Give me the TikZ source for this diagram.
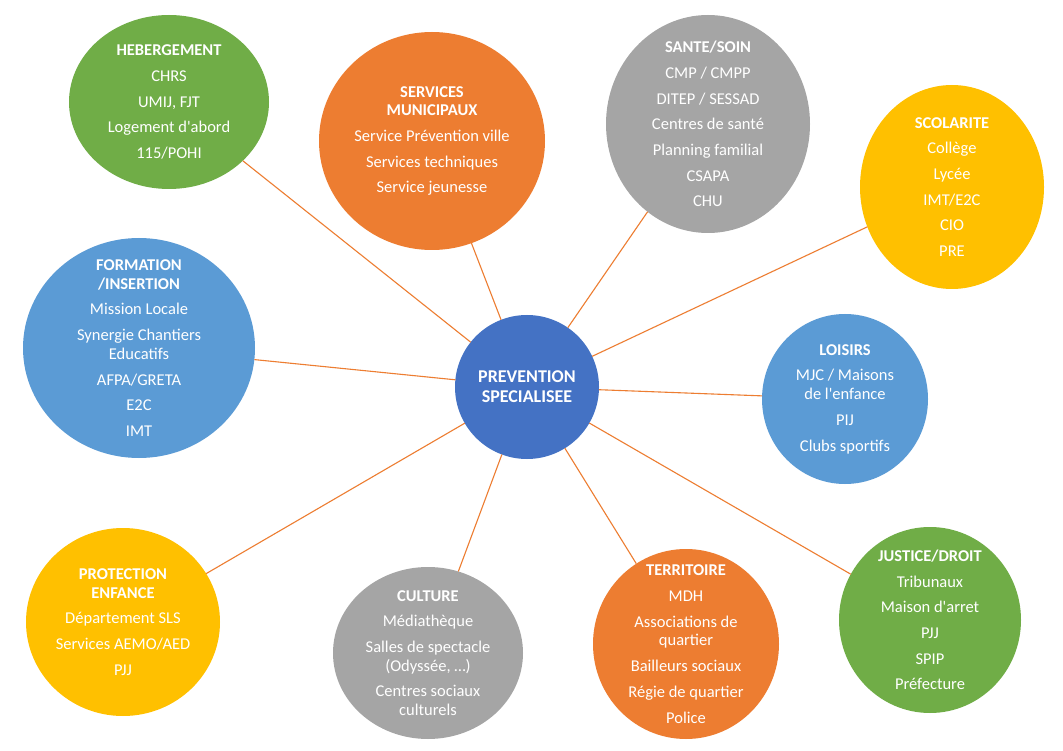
\documentclass[tikz,border=0pt]{standalone}
\usepackage{fontspec}
\setmainfont{Carlito}
\usetikzlibrary{shapes.geometric}
\definecolor{cBlue}{HTML}{4472C4}
\definecolor{cLight}{HTML}{5B9BD5}
\definecolor{cOrange}{HTML}{ED7D31}
\definecolor{cGray}{HTML}{A5A5A5}
\definecolor{cYellow}{HTML}{FFC000}
\definecolor{cGreen}{HTML}{70AD47}
\newcommand\pgap{\\[6.9pt]}
\begin{document}
\begin{tikzpicture}[x=1pt,y=-1pt,
  bub/.style={ellipse, draw=none, inner sep=0pt, outer sep=0pt},
  lbl/.style={text=white, align=center, font=\fontsize{16.5}{18.8}\selectfont, inner sep=0pt},
  link/.style={draw=cOrange, line width=1.1pt}]
\fill[white] (0,0) rectangle (1063,751);
\useasboundingbox (0,0) rectangle (1063,751);

% bubbles
\node[bub, fill=cBlue,   minimum width=144pt, minimum height=144pt] (cen) at (527,387) {};
\node[bub, fill=cGreen,  minimum width=200pt, minimum height=174pt] (heb) at (169,102) {};
\node[bub, fill=cOrange, minimum width=226pt, minimum height=218pt] (ser) at (432,141) {};
\node[bub, fill=cGray,   minimum width=204pt, minimum height=218pt] (san) at (708,124) {};
\node[bub, fill=cYellow, minimum width=184pt, minimum height=204pt] (sco) at (952,187) {};
\node[bub, fill=cLight,  minimum width=232pt, minimum height=220pt] (for) at (139,348) {};
\node[bub, fill=cLight,  minimum width=166pt, minimum height=170pt] (loi) at (845,399) {};
\node[bub, fill=cYellow, minimum width=194pt, minimum height=188pt] (pro) at (123,622) {};
\node[bub, fill=cGray,   minimum width=190pt, minimum height=172pt] (cul) at (428,653) {};
\node[bub, fill=cOrange, minimum width=186pt, minimum height=190pt] (ter) at (686,644) {};
\node[bub, fill=cGreen,  minimum width=182pt, minimum height=186pt] (jus) at (930,620) {};

% connectors
\draw[link] (cen) -- (heb);
\draw[link] (cen) -- (ser);
\draw[link] (cen) -- (san);
\draw[link] (cen) -- (sco);
\draw[link] (cen) -- (for);
\draw[link] (cen) -- (loi);
\draw[link] (cen) -- (pro);
\draw[link] (cen) -- (cul);
\draw[link] (cen) -- (ter);
\draw[link] (cen) -- (jus);

% texts
\node[lbl, font=\fontsize{18}{20}\selectfont\bfseries] (cenT) at (cen) {PREVENTION\\SPECIALISEE};
\node[lbl] (hebT) at (heb) {\textbf{HEBERGEMENT}\pgap CHRS\pgap UMIJ, FJT\pgap Logement d\textquotesingle abord\pgap 115/POHI};
\node[lbl] (serT) at (ser) {\textbf{SERVICES}\\\textbf{MUNICIPAUX}\pgap Service Prévention ville\pgap Services techniques\pgap Service jeunesse};
\node[lbl] (sanT) at (san) {\textbf{SANTE/SOIN}\pgap CMP / CMPP\pgap DITEP / SESSAD\pgap Centres de santé\pgap Planning familial\pgap CSAPA\pgap CHU};
\node[lbl] (scoT) at (sco) {\textbf{SCOLARITE}\pgap Collège\pgap Lycée\pgap IMT/E2C\pgap CIO\pgap PRE};
\node[lbl] (forT) at (for) {\textbf{FORMATION}\\\textbf{/INSERTION}\pgap Mission Locale\pgap Synergie Chantiers\\Educatifs\pgap AFPA/GRETA\pgap E2C\pgap IMT};
\node[lbl] (loiT) at (loi) {\textbf{LOISIRS}\pgap MJC / Maisons\\de l\textquotesingle enfance\pgap PIJ\pgap Clubs sportifs};
\node[lbl] (proT) at (pro) {\textbf{PROTECTION}\\\textbf{ENFANCE}\pgap Département SLS\pgap Services AEMO/AED\pgap PJJ};
\node[lbl] (culT) at (cul) {\textbf{CULTURE}\pgap Médiathèque\pgap Salles de spectacle\\(Odyssée, …)\pgap Centres sociaux\\culturels};
\node[lbl] (terT) at (ter) {\textbf{TERRITOIRE}\pgap MDH\pgap Associations de\\quartier\pgap Bailleurs sociaux\pgap Régie de quartier\pgap Police};
\node[lbl] (jusT) at (jus) {\textbf{JUSTICE/DROIT}\pgap Tribunaux\pgap Maison d\textquotesingle arret\pgap PJJ\pgap SPIP\pgap Préfecture};
\end{tikzpicture}
\end{document}
